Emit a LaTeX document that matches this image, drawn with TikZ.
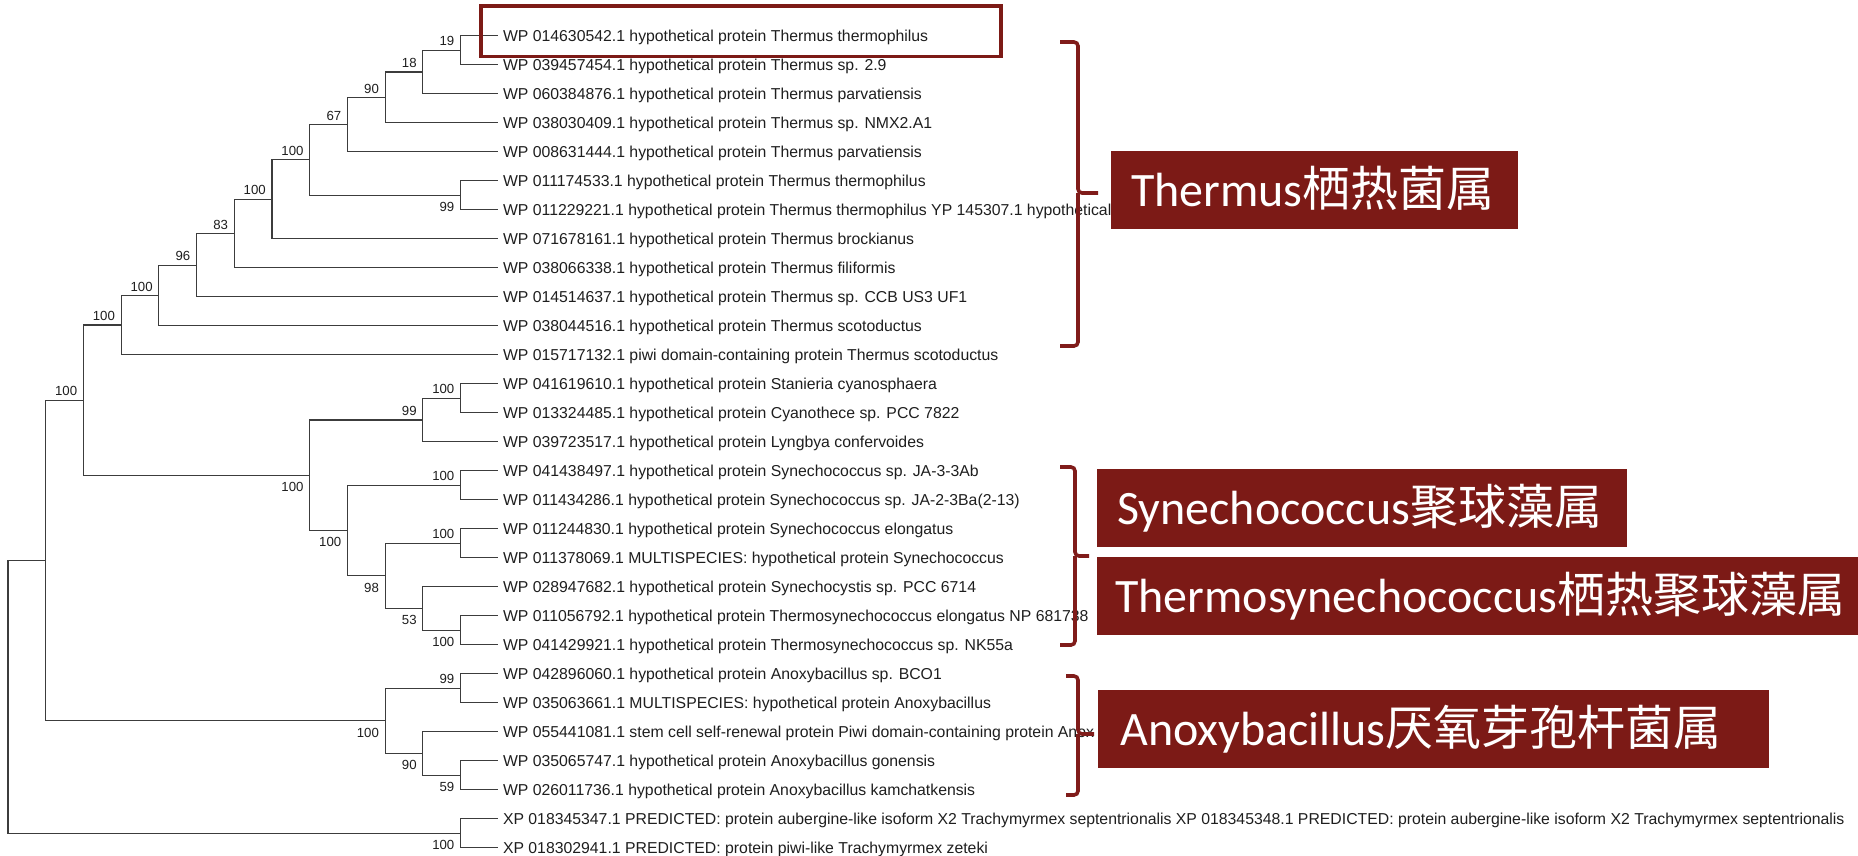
\documentclass[tikz,border=0pt]{standalone}
\usepackage{fontspec}
\usepackage{tikz}
\usetikzlibrary{calc}
\newfontfamily\leaffont{Liberation Sans}
\newfontfamily\genusfont{Carlito}
\newfontfamily\cjkfont{Noto Sans CJK SC}
\definecolor{treegray}{RGB}{60,60,60}
\definecolor{leafblack}{RGB}{30,30,30}
\definecolor{genusred}{RGB}{124,26,22}
\definecolor{bracered}{RGB}{128,28,26}

\begin{document}
\begin{tikzpicture}[x=1pt,y=-1pt,
    branch/.style={treegray,line width=1.2pt},
    leaf/.style={anchor=west,inner xsep=4.5pt,inner ysep=0pt,text height=11.3pt,text depth=0pt,text=leafblack,font=\leaffont\fontsize{15.8}{18}\selectfont},
    bsup/.style={anchor=south east,inner sep=0pt,text=leafblack,font=\leaffont\fontsize{13.2}{15}\selectfont},
    bsdown/.style={bsup,anchor=north east},
    genus/.style={anchor=west,fill=genusred,text=white,inner xsep=20pt,inner ysep=0pt,minimum height=78pt,text height=35pt,text depth=2pt,align=left,font=\genusfont\fontsize{48}{52}\selectfont},
    curly/.style={bracered,line width=3.6pt,rounded corners=4pt}]
    \useasboundingbox (0,0) rectangle (1858,855);

    % Leaves
    \foreach \i/\txt in {
        0/{WP 014630542.1 hypothetical protein Thermus thermophilus},
        1/{WP 039457454.1 hypothetical protein Thermus sp. 2.9},
        2/{WP 060384876.1 hypothetical protein Thermus parvatiensis},
        3/{WP 038030409.1 hypothetical protein Thermus sp. NMX2.A1},
        4/{WP 008631444.1 hypothetical protein Thermus parvatiensis},
        5/{WP 011174533.1 hypothetical protein Thermus thermophilus},
        6/{WP 011229221.1 hypothetical protein Thermus thermophilus YP 145307.1 hypothetical},
        7/{WP 071678161.1 hypothetical protein Thermus brockianus},
        8/{WP 038066338.1 hypothetical protein Thermus filiformis},
        9/{WP 014514637.1 hypothetical protein Thermus sp. CCB US3 UF1},
        10/{WP 038044516.1 hypothetical protein Thermus scotoductus},
        11/{WP 015717132.1 piwi domain-containing protein Thermus scotoductus},
        12/{WP 041619610.1 hypothetical protein Stanieria cyanosphaera},
        13/{WP 013324485.1 hypothetical protein Cyanothece sp. PCC 7822},
        14/{WP 039723517.1 hypothetical protein Lyngbya confervoides},
        15/{WP 041438497.1 hypothetical protein Synechococcus sp. JA-3-3Ab},
        16/{WP 011434286.1 hypothetical protein Synechococcus sp. JA-2-3Ba(2-13)},
        17/{WP 011244830.1 hypothetical protein Synechococcus elongatus},
        18/{WP 011378069.1 MULTISPECIES: hypothetical protein Synechococcus},
        19/{WP 028947682.1 hypothetical protein Synechocystis sp. PCC 6714},
        20/{WP 011056792.1 hypothetical protein Thermosynechococcus elongatus NP 681738},
        21/{WP 041429921.1 hypothetical protein Thermosynechococcus sp. NK55a},
        22/{WP 042896060.1 hypothetical protein Anoxybacillus sp. BCO1},
        23/{WP 035063661.1 MULTISPECIES: hypothetical protein Anoxybacillus},
        24/{WP 055441081.1 stem cell self-renewal protein Piwi domain-containing protein Anox},
        25/{WP 035065747.1 hypothetical protein Anoxybacillus gonensis},
        26/{WP 026011736.1 hypothetical protein Anoxybacillus kamchatkensis},
        27/{XP 018345347.1 PREDICTED: protein aubergine-like isoform X2 Trachymyrmex septentrionalis XP 018345348.1 PREDICTED: protein aubergine-like isoform X2 Trachymyrmex septentrionalis},
        28/{XP 018302941.1 PREDICTED: protein piwi-like Trachymyrmex zeteki}}
        \node[leaf] (L\i) at (498.3,{35.7+29*\i}) {\txt};

    % Inner nodes
    \coordinate (R) at (7.9,696.8);
    \coordinate (A) at (45.6,560.45);
    \coordinate (B) at (83.3,400.1);
    \coordinate (T3) at (121.1,325.05);
    \coordinate (T4) at (158.8,295.4);
    \coordinate (T5) at (196.5,265.1);
    \coordinate (T6) at (234.2,233.49);
    \coordinate (T7) at (271.9,199.28);
    \coordinate (T8) at (309.7,159.86);
    \coordinate (T9) at (347.4,124.51);
    \coordinate (T10) at (385.1,97.33);
    \coordinate (T11) at (422.8,71.95);
    \coordinate (T12) at (460.5,50.2);
    \coordinate (Tb) at (460.5,195.2);
    \coordinate (C8) at (309.7,475.2);
    \coordinate (C11) at (422.8,419.95);
    \coordinate (C12) at (460.5,398.2);
    \coordinate (S9) at (347.4,530.5);
    \coordinate (S10) at (385.1,575.83);
    \coordinate (S11) at (422.8,608.45);
    \coordinate (S12a) at (460.5,485.2);
    \coordinate (S12b) at (460.5,543.2);
    \coordinate (S12c) at (460.5,630.2);
    \coordinate (N10) at (385.1,720.8);
    \coordinate (N11) at (422.8,753.45);
    \coordinate (N12a) at (460.5,688.2);
    \coordinate (N12b) at (460.5,775.2);
    \coordinate (X12) at (460.5,833.2);

    % Branches
    \foreach \p/\c in {R/A,R/X12,A/B,A/N10,B/T3,B/C8,
        T3/T4,T3/L11,T4/T5,T4/L10,T5/T6,T5/L9,T6/T7,T6/L8,T7/T8,T7/L7,
        T8/T9,T8/Tb,T9/T10,T9/L4,T10/T11,T10/L3,T11/T12,T11/L2,
        T12/L0,T12/L1,Tb/L5,Tb/L6,
        C8/C11,C8/S9,C11/C12,C11/L14,C12/L12,C12/L13,
        S9/S12a,S9/S10,S12a/L15,S12a/L16,S10/S12b,S10/S11,
        S12b/L17,S12b/L18,S11/L19,S11/S12c,S12c/L20,S12c/L21,
        N10/N12a,N10/N11,N12a/L22,N12a/L23,N11/L24,N11/N12b,
        N12b/L25,N12b/L26,X12/L27,X12/L28}
        \draw[branch] (\p) |- (\c);

    % Bootstrap values
    \foreach \n/\v in {T12/19,T11/18,T10/90,T9/67,T8/100,T7/100,T6/83,T5/96,
        T4/100,T3/100,B/100,C12/100,C11/99,S12a/100,S12b/100,N12a/99}
        \node[bsup] (bs\n) at ([shift={(-6,-4)}]\n) {\v};
    \foreach \n/\v in {Tb/99,C8/100,S9/100,S10/98,S11/53,S12c/100,
        N10/100,N11/90,N12b/59,X12/100}
        \node[bsdown] (bs\n) at ([shift={(-6,7)}]\n) {\v};

    % Highlight
    \draw[genusred,line width=3.5pt] (481,5.8) rectangle (1001,56.7);

    % Braces
    \draw[curly] (1060,42) -| (1078,193) -- (1098,193);
    \draw[curly] (1078,193) |- (1060,346);
    \draw[curly] (1060,467) -| (1075,556) -- (1089,556);
    \draw[curly] (1075,556) |- (1060,645);
    \draw[curly] (1066,676) -| (1078,734) -- (1094,734);
    \draw[curly] (1078,734) |- (1066,795);

    % Genus labels
    \node[genus,text width=367pt] (thermus) at (1111,190) {Thermus{\cjkfont 栖热菌属}};
    \node[genus,text width=490pt] (synecho) at (1097,508) {Synechococcus{\cjkfont 聚球藻属}};
    \node[genus,text width=725pt,inner xsep=18pt] (thermosyn) at (1097,595.5) {Thermosynechococcus{\cjkfont 栖热聚球藻属}};
    \node[genus,text width=627pt,inner xsep=22pt] (anoxy) at (1098,729) {Anoxybacillus{\cjkfont 厌氧芽孢杆菌属}};
\end{tikzpicture}
\end{document}
